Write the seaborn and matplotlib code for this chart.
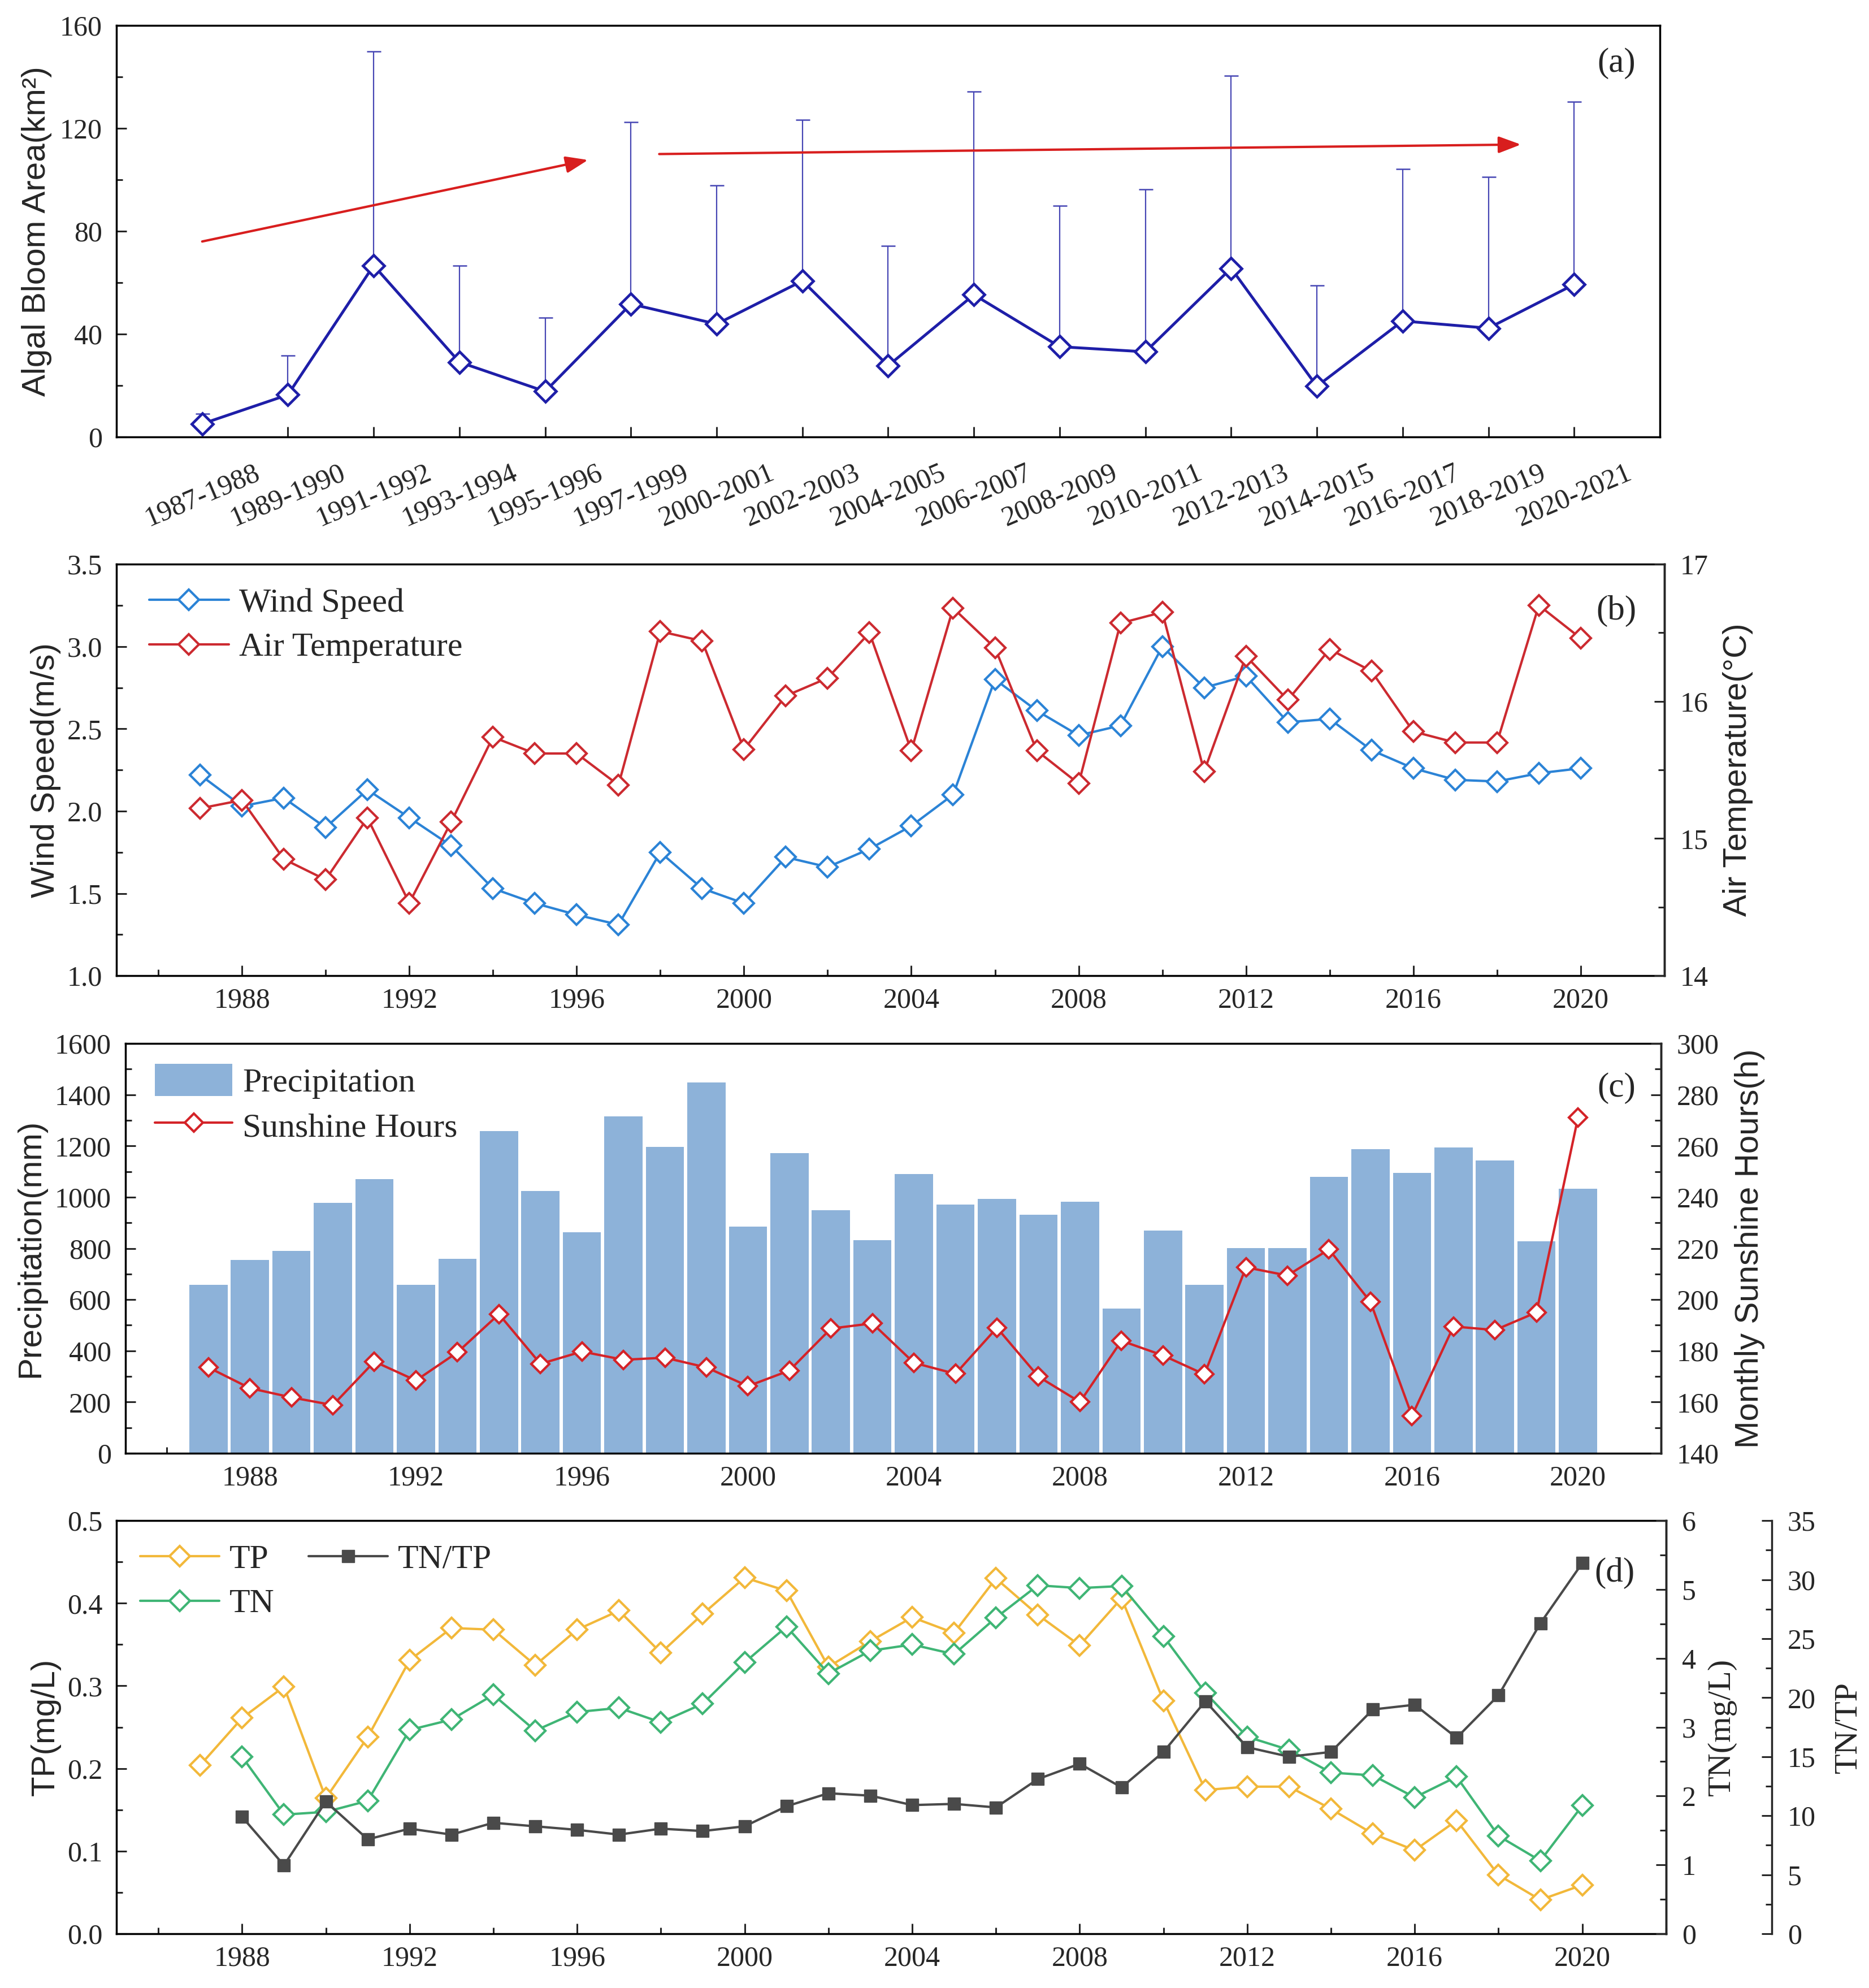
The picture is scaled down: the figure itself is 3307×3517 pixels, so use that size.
import numpy as np
import pandas as pd
import seaborn as sns
import matplotlib
matplotlib.use("Agg")
import matplotlib.pyplot as plt
from matplotlib.patches import Patch
from matplotlib.ticker import MultipleLocator, FormatStrFormatter

# ---------------- data ----------------
periods = ["1987-1988", "1989-1990", "1991-1992", "1993-1994", "1995-1996",
           "1997-1999", "2000-2001", "2002-2003", "2004-2005", "2006-2007",
           "2008-2009", "2010-2011", "2012-2013", "2014-2015", "2016-2017",
           "2018-2019", "2020-2021"]
bloom_area = [5.1, 16.4, 66.7, 29.1, 17.7, 51.7, 43.9, 60.7, 27.7, 55.3,
              35.1, 33.1, 65.6, 19.7, 45.1, 42.3, 59.3]
bloom_sd = [4.0, 15.2, 83.3, 37.6, 28.6, 70.7, 54.0, 62.6, 46.7, 79.0,
            54.9, 63.2, 74.8, 39.2, 59.0, 58.9, 71.0]

years = list(range(1987, 2021))
wind_speed = [2.22, 2.03, 2.08, 1.90, 2.13, 1.96, 1.79, 1.53, 1.44, 1.37,
              1.31, 1.75, 1.53, 1.44, 1.72, 1.66, 1.77, 1.91, 2.10, 2.80,
              2.61, 2.46, 2.52, 3.00, 2.75, 2.82, 2.54, 2.56, 2.37, 2.26,
              2.19, 2.18, 2.23, 2.26]
air_temp = [15.22, 15.28, 14.85, 14.70, 15.15, 14.53, 15.12, 15.74, 15.62, 15.62,
            15.39, 16.51, 16.44, 15.65, 16.04, 16.17, 16.50, 15.64, 16.68, 16.39,
            15.64, 15.40, 16.57, 16.65, 15.49, 16.33, 16.01, 16.38, 16.22, 15.78,
            15.70, 15.70, 16.70, 16.46]
precip = [658, 754, 789, 978, 1070, 658, 760, 1257, 1023, 862,
          1315, 1196, 1448, 884, 1172, 948, 831, 1091, 972, 993,
          932, 983, 565, 870, 658, 802, 802, 1079, 1187, 1095,
          1193, 1143, 828, 1032]
sunshine = [173.5, 165.4, 161.8, 158.8, 175.8, 168.4, 179.4, 194.3, 174.9, 179.7,
            176.5, 177.3, 173.5, 166.2, 172.3, 188.7, 190.7, 175.3, 171.0, 189.0,
            169.9, 160.0, 183.9, 178.2, 170.8, 212.6, 209.4, 219.6, 199.1, 154.6,
            189.5, 188.1, 195.0, 271.0]
tp = [0.204, 0.261, 0.299, 0.164, 0.238, 0.331, 0.370, 0.368, 0.325, 0.368,
      0.391, 0.340, 0.387, 0.431, 0.415, 0.323, 0.354, 0.383, 0.364, 0.430,
      0.386, 0.349, 0.406, 0.282, 0.174, 0.178, 0.178, 0.151, 0.121, 0.101,
      0.137, 0.071, 0.041, 0.059]
tn_years = list(range(1988, 2021))
tn = [2.57, 1.73, 1.77, 1.93, 2.96, 3.11, 3.47, 2.95, 3.22, 3.28,
      3.07, 3.34, 3.94, 4.46, 3.78, 4.11, 4.20, 4.06, 4.59, 5.06,
      5.02, 5.05, 4.32, 3.50, 2.86, 2.67, 2.34, 2.30, 1.98, 2.28,
      1.42, 1.06, 1.86]
tn_tp = [9.9, 5.8, 11.2, 8.0, 8.9, 8.4, 9.4, 9.1, 8.8, 8.4,
         8.9, 8.7, 9.1, 10.8, 11.9, 11.7, 10.9, 11.0, 10.7, 13.1,
         14.4, 12.4, 15.4, 19.7, 15.8, 15.0, 15.4, 19.0, 19.4, 16.6,
         20.2, 26.3, 31.4]

# trend arrows in panel (a): (start, end) in data units
trend_arrows = [((0, 76), (4.5, 107.7)), ((5.33, 110), (15.38, 113.7))]

# ---------------- style ----------------
sns.set_theme(style="ticks")
plt.rcParams["font.family"] = ["Liberation Serif", "DejaVu Serif"]
plt.rcParams["axes.linewidth"] = 2.5

TICK = 36
LAB = 42
LEG = 43
PAN = 44
SANS = ["Liberation Sans", "DejaVu Sans"]
SERIF = ["Liberation Serif", "DejaVu Serif"]

C_AREA = "#1e1ea8"
C_ERR = "#4646b4"
C_WIND = "#2b83d6"
C_TEMP = "#cc2a30"
C_BAR = "#8db2d9"
C_SUN = "#d42328"
C_TP = "#f2b83a"
C_TN = "#3fb575"
C_RATIO = "#4a4a4a"

LW = 3.0
MS = 18
MEW = 3.0


def style_axis(ax, xpad=15, ypad=18):
    ax.tick_params(which="both", direction="in", width=2.2, labelsize=TICK)
    ax.tick_params(which="major", length=13)
    ax.tick_params(which="minor", length=8)
    ax.tick_params(axis="x", pad=xpad)
    ax.tick_params(axis="y", pad=ypad)
    for s in ax.spines.values():
        s.set_linewidth(2.5)
        s.set_color("black")


def year_axis(ax):
    ax.set_xlim(1985, 2022)
    ax.xaxis.set_major_locator(MultipleLocator(4))
    ax.xaxis.set_minor_locator(MultipleLocator(2))
    ax.set_xlabel("")


def twin_axis(ax):
    t = ax.twinx()
    for side in ("left", "top", "bottom"):
        t.spines[side].set_visible(False)
    t.tick_params(which="both", direction="in", width=2.2, labelsize=TICK, pad=20)
    t.tick_params(which="major", length=13)
    t.tick_params(which="minor", length=8)
    t.spines["right"].set_linewidth(2.5)
    return t


fig = plt.figure(figsize=(33.07, 35.17), dpi=100)

# ---------------- (a) ----------------
ax_a = fig.add_axes([0.0623, 0.7802, 0.8258, 0.2070])
pos = np.arange(len(periods))
ax_a.errorbar(pos, bloom_area, yerr=[np.zeros(len(bloom_sd)), bloom_sd],
              fmt="none", ecolor=C_ERR, elinewidth=1.6, capsize=9, capthick=1.8,
              zorder=1)
sns.lineplot(x=pos, y=bloom_area, ax=ax_a, color=C_AREA, linewidth=3.6,
             marker="D", markersize=19, markerfacecolor="white",
             markeredgecolor=C_AREA, markeredgewidth=3.4, zorder=3)
for start, end in trend_arrows:
    ax_a.annotate("", xy=end, xytext=start,
                  arrowprops=dict(arrowstyle="-|>,head_length=0.8,head_width=0.3",
                                  color="#d81e1e", lw=3, mutation_scale=30,
                                  shrinkA=0, shrinkB=0))
ax_a.set_xlim(-1, len(periods))
ax_a.set_ylim(0, 160)
ax_a.set_xticks(pos)
ax_a.set_xticklabels(periods, rotation=23, ha="center")
ax_a.yaxis.set_major_locator(MultipleLocator(40))
ax_a.yaxis.set_minor_locator(MultipleLocator(20))
style_axis(ax_a, xpad=29)
ax_a.set_xlabel("")
ax_a.set_ylabel("Algal Bloom Area(km²)", fontsize=LAB, family=SANS)
ax_a.yaxis.set_label_coords(-0.0417, 0.5)
ax_a.text(0.972, 0.908, "(a)", transform=ax_a.transAxes, ha="center",
          va="center", fontsize=PAN)

# ---------------- (b) ----------------
ax_b = fig.add_axes([0.0623, 0.5092, 0.8282, 0.2070])
sns.lineplot(x=years, y=wind_speed, ax=ax_b, color=C_WIND, linewidth=LW,
             marker="D", markersize=MS, markerfacecolor="white",
             markeredgecolor=C_WIND, markeredgewidth=MEW, label="Wind Speed")
ax_b2 = twin_axis(ax_b)
sns.lineplot(x=years, y=air_temp, ax=ax_b2, color=C_TEMP, linewidth=LW,
             marker="D", markersize=MS, markerfacecolor="white",
             markeredgecolor=C_TEMP, markeredgewidth=MEW, label="Air Temperature")
year_axis(ax_b)
ax_b.set_ylim(1.0, 3.5)
ax_b.yaxis.set_major_locator(MultipleLocator(0.5))
ax_b.yaxis.set_minor_locator(MultipleLocator(0.25))
ax_b.yaxis.set_major_formatter(FormatStrFormatter("%.1f"))
style_axis(ax_b)
ax_b2.set_ylim(14, 17)
ax_b2.yaxis.set_major_locator(MultipleLocator(1))
ax_b2.yaxis.set_minor_locator(MultipleLocator(0.5))
ax_b.set_ylabel("Wind Speed(m/s)", fontsize=LAB, family=SANS)
ax_b.yaxis.set_label_coords(-0.0358, 0.5)
ax_b2.set_ylabel("Air Temperature(°C)", fontsize=LAB, family=SANS)
ax_b2.yaxis.set_label_coords(1.0376, 0.5)
h1, l1 = ax_b.get_legend_handles_labels()
h2, l2 = ax_b2.get_legend_handles_labels()
ax_b2.legend(h1 + h2, l1 + l2, loc="upper left", bbox_to_anchor=(0.006, 1.0),
             frameon=False, fontsize=LEG, handlelength=2.35, handletextpad=0.3,
             labelspacing=0.4, borderaxespad=0.3)
ax_b.text(0.969, 0.886, "(b)", transform=ax_b.transAxes, ha="center",
          va="center", fontsize=PAN)

# ---------------- (c) ----------------
ax_c = fig.add_axes([0.0671, 0.2690, 0.8216, 0.2061])
sns.barplot(x=years, y=precip, ax=ax_c, native_scale=True, width=0.92,
            color=C_BAR, saturation=1, errorbar=None, edgecolor="none")
ax_c2 = twin_axis(ax_c)
sns.lineplot(x=years, y=sunshine, ax=ax_c2, color=C_SUN, linewidth=LW,
             marker="D", markersize=16, markerfacecolor="white",
             markeredgecolor=C_SUN, markeredgewidth=MEW, label="Sunshine Hours")
year_axis(ax_c)
ax_c.set_ylim(0, 1600)
ax_c.yaxis.set_major_locator(MultipleLocator(200))
ax_c.yaxis.set_minor_locator(MultipleLocator(100))
style_axis(ax_c)
ax_c2.set_ylim(140, 300)
ax_c2.yaxis.set_major_locator(MultipleLocator(20))
ax_c2.yaxis.set_minor_locator(MultipleLocator(10))
ax_c.set_ylabel("Precipitation(mm)", fontsize=LAB, family=SANS)
ax_c.yaxis.set_label_coords(-0.0519, 0.5)
ax_c2.set_ylabel("Monthly Sunshine Hours(h)", fontsize=LAB, family=SANS)
ax_c2.yaxis.set_label_coords(1.048, 0.5)
h2, l2 = ax_c2.get_legend_handles_labels()
bar_handle = Patch(facecolor=C_BAR, edgecolor="none")
ax_c2.legend([bar_handle] + h2, ["Precipitation"] + l2, loc="upper left",
             bbox_to_anchor=(0.006, 1.0), frameon=False, fontsize=LEG,
             handlelength=2.3, handleheight=1.1, handletextpad=0.3,
             labelspacing=0.3, borderaxespad=0.2)
ax_c.text(0.971, 0.891, "(c)", transform=ax_c.transAxes, ha="center",
          va="center", fontsize=PAN)

# ---------------- (d) ----------------
ax_d = fig.add_axes([0.0623, 0.0273, 0.8291, 0.2078])
sns.lineplot(x=years, y=tp, ax=ax_d, color=C_TP, linewidth=LW,
             marker="D", markersize=MS, markerfacecolor="white",
             markeredgecolor=C_TP, markeredgewidth=MEW, label="TP")
ax_d2 = twin_axis(ax_d)
sns.lineplot(x=tn_years, y=tn, ax=ax_d2, color=C_TN, linewidth=LW,
             marker="D", markersize=MS, markerfacecolor="white",
             markeredgecolor=C_TN, markeredgewidth=MEW, label="TN")
ax_d3 = twin_axis(ax_d)
ax_d3.spines["right"].set_position(("axes", 1.0682))
sns.lineplot(x=tn_years, y=tn_tp, ax=ax_d3, color=C_RATIO, linewidth=LW,
             marker="s", markersize=16, markerfacecolor=C_RATIO,
             markeredgecolor=C_RATIO, markeredgewidth=1, label="TN/TP")
year_axis(ax_d)
ax_d.set_ylim(0, 0.5)
ax_d.yaxis.set_major_locator(MultipleLocator(0.1))
ax_d.yaxis.set_minor_locator(MultipleLocator(0.05))
ax_d.yaxis.set_major_formatter(FormatStrFormatter("%.1f"))
style_axis(ax_d)
ax_d2.set_ylim(0, 6)
ax_d2.yaxis.set_major_locator(MultipleLocator(1))
ax_d2.yaxis.set_minor_locator(MultipleLocator(0.5))
ax_d3.set_ylim(0, 35)
ax_d3.yaxis.set_major_locator(MultipleLocator(5))
ax_d3.yaxis.set_minor_locator(MultipleLocator(2.5))
ax_d.set_ylabel("TP(mg/L)", fontsize=LAB, family=SANS)
ax_d.yaxis.set_label_coords(-0.0357, 0.5)
ax_d2.set_ylabel("TN(mg/L)", fontsize=LAB, family=SERIF)
ax_d2.yaxis.set_label_coords(1.0266, 0.5)
ax_d3.set_ylabel("TN/TP", fontsize=LAB, family=SERIF)
ax_d3.yaxis.set_label_coords(1.108, 0.5)
hs, ls = [], []
for a in (ax_d, ax_d2, ax_d3):
    h, l = a.get_legend_handles_labels()
    hs += h
    ls += l
    if a.get_legend():
        a.get_legend().remove()
ax_d3.legend(hs, ls, loc="upper left", ncol=2, frameon=False, fontsize=LEG,
             handlelength=2.35, handletextpad=0.3, labelspacing=0.4,
             columnspacing=1.0, borderaxespad=0.3)
ax_d.text(0.967, 0.873, "(d)", transform=ax_d.transAxes, ha="center",
          va="center", fontsize=PAN)

for a in (ax_b, ax_c):
    if a.get_legend():
        a.get_legend().remove()

fig.savefig("out.png", dpi=100)
